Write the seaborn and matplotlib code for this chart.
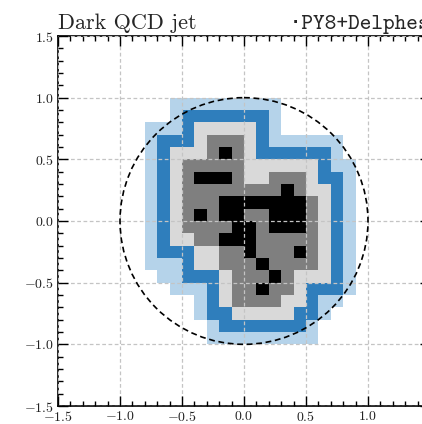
import numpy as np
import matplotlib
matplotlib.use("Agg")
import matplotlib.pyplot as plt
from matplotlib.colors import ListedColormap
from matplotlib.patches import Circle
import seaborn as sns

# Jet image on a 0.1 x 0.1 (eta, phi) grid covering [-1.5, 1.5]^2, top row first.
# "." empty, "a" outer halo, "b" halo, "c" inner halo, "d" deposit, "e" hot deposit
level_codes = ".abcde"
image_rows = [
    "..............................",
    "..............................",
    "..............................",
    "..............................",
    "..............................",
    ".........aaaaaaaaa............",
    ".........abbbbbbba............",
    ".......aaabcccccba............",
    ".......abbbcdddcbaaaaaa.......",
    ".......abcccdedcbbbbbba.......",
    ".......abcdddddccccccbaa......",
    ".......abcdeeedccdddcbba......",
    ".......abcddddddddedccba......",
    ".......abcdddeeeeeeedcba......",
    ".......abcdedeeddeeedcba......",
    ".......abcddddeedeeedcba......",
    ".......abccddeeedddddcba......",
    ".......abbbccddedddedcba......",
    ".......aaabccdddeddddcba......",
    "........aabbbcdddedcccba......",
    ".........aaabcddeddcbbba......",
    "...........abcddddccbaa.......",
    "...........abbcccccbba........",
    "............abbbbbbba.........",
    "............aaaaaaaaa.........",
    "..............................",
    "..............................",
    "..............................",
    "..............................",
    "..............................",
]
level_colors = ["#ffffff", "#b5d3ea", "#2f7ebc", "#d9d9d9", "#7f7f7f", "#000000"]

grid_min, grid_max, cell = -1.5, 1.5, 0.1
axis_ticks = [-1.5, -1.0, -0.5, 0.0, 0.5, 1.0, 1.5]
minor_ticks = [round(grid_min + cell * k, 1) for k in range(31)]
jet_radius = 1.0
title_left = "Dark QCD jet"
title_right = "·PY8+Delphes"

sns.set_style("ticks")
plt.rcParams.update({
    "font.family": "serif",
    "font.serif": ["cmr10"],
    "mathtext.fontset": "cm",
    "axes.formatter.use_mathtext": True,
    "axes.edgecolor": "black",
    "xtick.color": "black",
    "ytick.color": "black",
})

levels = np.array([[level_codes.index(ch) for ch in row] for row in image_rows])


def col_pos(v):
    return (v - grid_min) / cell


def row_pos(v):
    return (grid_max - v) / cell


fig = plt.figure(figsize=(4.22, 4.24), dpi=100)
ax = fig.add_axes([58 / 422, 1 - 406 / 424, 372 / 422, 370 / 424])

sns.heatmap(levels, mask=levels == 0, cmap=ListedColormap(level_colors),
            vmin=-0.5, vmax=5.5, cbar=False, ax=ax,
            xticklabels=False, yticklabels=False)

ax.set_xlim(col_pos(grid_min), col_pos(grid_max))
ax.set_ylim(row_pos(grid_min), row_pos(grid_max))

ax.set_xticks([col_pos(v) for v in axis_ticks])
ax.set_xticklabels([f"${v:.1f}$" for v in axis_ticks], rotation=0)
ax.set_yticks([row_pos(v) for v in axis_ticks])
ax.set_yticklabels([f"${v:.1f}$" for v in axis_ticks], rotation=0)
ax.set_xticks([col_pos(v) for v in minor_ticks], minor=True)
ax.set_yticks([row_pos(v) for v in minor_ticks], minor=True)

ax.tick_params(which="both", direction="in", top=True, right=True,
               bottom=True, left=True, width=1.0, color="black")
ax.tick_params(which="major", length=7, labelsize=10, pad=3, labelcolor="#222222")
ax.tick_params(which="minor", length=3.5)

for spine in ax.spines.values():
    spine.set_visible(True)
    spine.set_linewidth(1.2)
    spine.set_color("black")

ax.set_axisbelow(False)
ax.grid(True, which="major", linestyle=(0, (3, 2)), color="#c4c4c4", linewidth=0.9)

ax.add_patch(Circle((col_pos(0.0), row_pos(0.0)), jet_radius / cell, fill=False,
                    edgecolor="black", linewidth=1.2, linestyle=(0, (3.5, 2.2)),
                    zorder=4))

ax.set_title(title_left, loc="left", fontsize=16, pad=5)
ax.set_title(title_right, loc="right", fontsize=16, pad=5,
             family=["cmtt10", "DejaVu Sans Mono"])

fig.savefig("out.png", dpi=100)
